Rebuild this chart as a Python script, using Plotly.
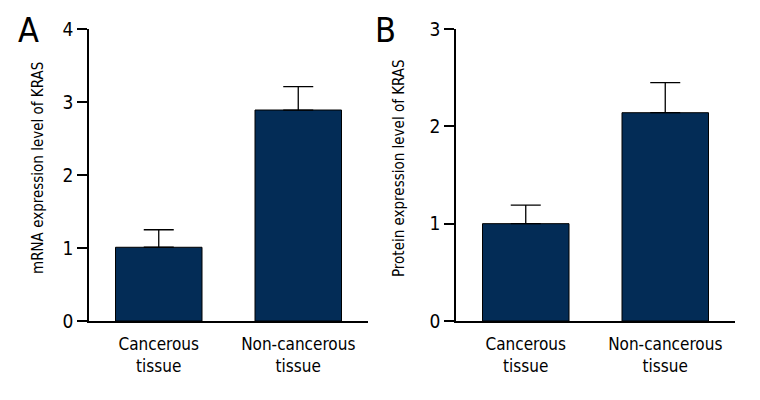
import plotly.graph_objects as go

categories = ["Cancerous<br>tissue", "Non-cancerous<br>tissue"]
mrna_values = [1.01, 2.89]
mrna_errors = [0.24, 0.32]
protein_values = [1.0, 2.14]
protein_errors = [0.19, 0.31]

FONT = "DejaVu Sans Condensed, sans-serif"
BAR = "#032c56"
OFF = 8  # browser body margin

W, H = 760, 400
def px(x):
    return (x - OFF) / W
def py(y):
    return 1 - (y - OFF) / H

fig = go.Figure()
fig.add_trace(go.Bar(
    x=categories, y=mrna_values, width=0.62,
    marker=dict(color=BAR, line=dict(color="black", width=1)),
    error_y=dict(type="data", array=mrna_errors, arrayminus=[0, 0], symmetric=False,
                 color="black", thickness=1.3, width=15),
    xaxis="x", yaxis="y", showlegend=False))
fig.add_trace(go.Bar(
    x=categories, y=protein_values, width=0.62,
    marker=dict(color=BAR, line=dict(color="black", width=1)),
    error_y=dict(type="data", array=protein_errors, arrayminus=[0, 0], symmetric=False,
                 color="black", thickness=1.3, width=15),
    xaxis="x2", yaxis="y2", showlegend=False))

ydom = [py(321), py(29)]
common_x = dict(showline=True, linecolor="black", linewidth=1.5, ticks="", showgrid=False,
                zeroline=False, range=[-0.5, 1.5], automargin=False, ticklabelstandoff=7,
                tickfont=dict(family=FONT, size=17, color="black"))
common_y = dict(showline=True, linecolor="black", linewidth=1.5, ticks="outside", ticklen=10,
                tickwidth=1.5, tickcolor="black", showgrid=False, zeroline=False, automargin=False,
                tickfont=dict(family=FONT, size=19, color="black"), dtick=1)

fig.update_layout(
    width=W, height=H, margin=dict(l=0, r=0, t=0, b=0, autoexpand=False),
    plot_bgcolor="white", paper_bgcolor="white",
    font=dict(family=FONT, color="black"),
    xaxis=dict(domain=[px(89), px(368)], anchor="y", **common_x),
    yaxis=dict(domain=ydom, anchor="x", range=[0, 4], **common_y),
    xaxis2=dict(domain=[px(456), px(735)], anchor="y2", **common_x),
    yaxis2=dict(domain=ydom, anchor="x2", range=[0, 3], **common_y),
    annotations=[
        dict(text="A", x=px(16), y=1.0, xref="paper", yref="paper", xanchor="left", yanchor="top",
             showarrow=False, font=dict(family=FONT, size=34, color="black")),
        dict(text="B", x=px(373), y=1.0, xref="paper", yref="paper", xanchor="left", yanchor="top",
             showarrow=False, font=dict(family=FONT, size=34, color="black")),
        dict(text="mRNA expression level of KRAS", x=px(38), y=py(168), xref="paper", yref="paper",
             xanchor="center", yanchor="middle", textangle=-90, showarrow=False,
             font=dict(family=FONT, size=15, color="black")),
        dict(text="Protein expression level of KRAS", x=px(399), y=py(168), xref="paper", yref="paper",
             xanchor="center", yanchor="middle", textangle=-90, showarrow=False,
             font=dict(family=FONT, size=15, color="black")),
    ],
)

fig.write_html("out.html")
